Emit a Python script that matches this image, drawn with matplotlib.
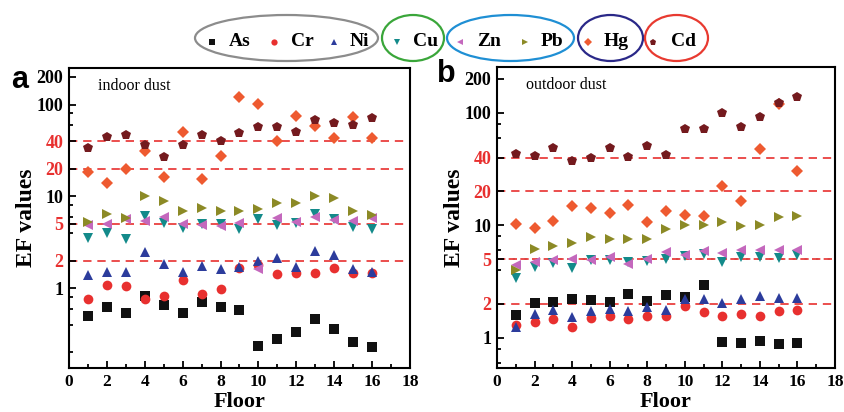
import matplotlib.pyplot as plt
from matplotlib.lines import Line2D
from matplotlib.patches import Ellipse
from matplotlib.ticker import FixedLocator, NullFormatter

# floors 1..16
floors = list(range(1, 17))

# indoor dust EF values
in_as = [0.50, 0.63, 0.53, 0.83, 0.66, 0.54, 0.71, 0.63, 0.58, 0.234, 0.276, 0.33, 0.46, 0.36, 0.256, 0.23]
in_cr = [0.76, 1.09, 1.06, 0.76, 0.83, 1.23, 0.86, 0.98, 1.67, 1.77, 1.41, 1.47, 1.46, 1.67, 1.47, 1.47]
in_ni = [1.39, 1.50, 1.51, 2.48, 1.81, 1.51, 1.74, 1.60, 1.70, 2.00, 2.14, 1.71, 2.52, 2.28, 1.63, 1.51]
in_cu = [3.56, 4.03, 3.45, 6.15, 5.08, 4.57, 4.96, 4.96, 4.42, 5.66, 4.88, 5.10, 6.35, 5.66, 4.68, 4.42]
in_zn = [4.88, 5.03, 5.66, 5.40, 6.00, 4.96, 4.88, 4.80, 5.08, 1.60, 5.85, 5.30, 5.90, 5.50, 5.40, 5.85]
in_pb = [5.2, 6.4, 5.75, 10.2, 8.9, 6.9, 7.5, 6.9, 7.0, 7.3, 8.5, 8.5, 10.2, 9.7, 6.9, 6.3]
in_hg = [18.2, 14.1, 19.8, 30.8, 16.2, 50, 15.3, 27.2, 120, 101, 39.6, 74.7, 57.7, 42.7, 72.8, 43.4]
in_cd = [33.8, 44, 46, 35.8, 26.8, 35.8, 46.8, 39.6, 48.8, 56.7, 56.7, 49.6, 68, 62.7, 60.6, 71.6]

# outdoor dust EF values
out_as = [1.60, 2.05, 2.09, 2.20, 2.17, 2.07, 2.43, 2.13, 2.39, 2.30, 2.95, 0.92, 0.90, 0.93, 0.88, 0.90]
out_cr = [1.29, 1.37, 1.46, 1.25, 1.50, 1.58, 1.46, 1.56, 1.55, 1.91, 1.71, 1.55, 1.62, 1.56, 1.72, 1.76]
out_ni = [1.25, 1.64, 1.76, 1.54, 1.74, 1.82, 1.74, 1.88, 1.78, 2.22, 2.20, 2.05, 2.23, 2.36, 2.25, 2.25]
out_cu = [3.43, 4.27, 4.63, 4.21, 4.89, 4.89, 4.73, 4.83, 4.99, 5.30, 5.53, 4.73, 5.24, 5.24, 5.16, 5.42]
out_zn = [4.42, 4.73, 4.89, 4.99, 4.89, 5.24, 4.57, 5.06, 5.80, 5.49, 5.88, 5.68, 6.0, 6.0, 6.0, 6.0]
out_pb = [4.04, 6.2, 6.6, 6.9, 7.8, 7.6, 7.5, 7.6, 9.3, 10.1, 10.0, 10.6, 9.9, 10.1, 11.9, 12.0]
out_hg = [10.3, 9.5, 10.9, 14.7, 14.3, 12.9, 15.1, 10.6, 13.4, 12.4, 12.1, 22.4, 16.4, 48, 120, 30.3]
out_cd = [42.6, 41.4, 49, 37.6, 39.8, 48.3, 40.3, 50.3, 42, 71.2, 71.2, 100, 75.3, 91.4, 122, 138.6]

elements = ["As", "Cr", "Ni", "Cu", "Zn", "Pb", "Hg", "Cd"]
markers = ["s", "o", "^", "v", "<", ">", "D", "p"]
colors = ["#111111", "#e8302f", "#2c3c9c", "#138a8a", "#c468bd", "#8c8a26", "#ee5a30", "#741a1e"]
sizes = [6.5, 7, 7, 7, 7, 7, 6, 7.5]

indoor = [in_as, in_cr, in_ni, in_cu, in_zn, in_pb, in_hg, in_cd]
outdoor = [out_as, out_cr, out_ni, out_cu, out_zn, out_pb, out_hg, out_cd]

ref_lines = [40, 20, 5, 2]
major_y = [1, 2, 5, 10, 20, 40, 100, 200]
minor_y = [0.2, 0.4, 0.6, 0.8, 4, 6, 8, 60, 80]
red = "#e8302f"
serif = "Liberation Serif"

plt.rcParams["font.family"] = serif

fig = plt.figure(figsize=(8.44, 4.12), dpi=100)
W, H = 844.0, 412.0

def px(x0, y0, x1, y1):
    return [x0 / W, 1 - y1 / H, (x1 - x0) / W, (y1 - y0) / H]

ax_a = fig.add_axes(px(69, 68, 410, 368))
ax_b = fig.add_axes(px(497, 67, 835, 368))


def setup(ax, data, ylim, title, dashdot5=False):
    for vals, m, c, s in zip(data, markers, colors, sizes):
        ax.plot(floors, vals, linestyle="none", marker=m, color=c, markersize=s,
                markeredgewidth=0, zorder=3)
    for v in ref_lines:
        if dashdot5 and v == 5:
            ax.axhline(v, color="#9a9a9a", lw=1.2, dashes=(1.5, 5.5), dash_capstyle="butt",
                       zorder=1, xmin=0.012)
            ax.axhline(v, color=red, lw=1.2, dashes=(5, 2), zorder=1)
        else:
            ax.axhline(v, color=red, lw=1.2, dashes=(5, 3.5), zorder=1)
    ax.set_yscale("log")
    ax.set_ylim(*ylim)
    ax.set_xlim(0, 18)
    ax.yaxis.set_major_locator(FixedLocator(major_y))
    ax.yaxis.set_minor_locator(FixedLocator(minor_y))
    ax.yaxis.set_minor_formatter(NullFormatter())
    ax.set_yticklabels([str(v) for v in major_y])
    ax.set_xticks(range(0, 19, 2))
    ax.set_xticks(range(1, 18, 2), minor=True)
    ax.tick_params(which="both", direction="in", top=False, right=False, width=1.3)
    ax.tick_params(which="major", length=5, labelsize=13, pad=4)
    ax.tick_params(axis="x", which="major", labelsize=12.5)
    ax.tick_params(which="minor", length=3)
    for lab in ax.get_xticklabels() + ax.get_yticklabels():
        lab.set_fontweight("bold")
    for lab, v in zip(ax.get_yticklabels(), major_y):
        if v in ref_lines:
            lab.set_color(red)
    for sp in ax.spines.values():
        sp.set_linewidth(1.5)
    ax.set_xlabel("Floor", fontsize=16, fontweight="bold", labelpad=2)
    ax.set_ylabel("EF values", fontsize=17, fontweight="bold")
    ax.yaxis.set_label_coords(-0.095, 0.5)
    ax.text(0.085, 0.94, title, transform=ax.transAxes, fontsize=11.5, va="center")


setup(ax_a, indoor, (0.135, 250), "indoor dust")
setup(ax_b, outdoor, (0.54, 255), "outdoor dust", dashdot5=True)

fig.text(20 / W, 1 - 80 / H, "a", fontsize=22, fontweight="bold", family="Liberation Sans",
         ha="center", va="center")
fig.text(446 / W, 1 - 74 / H, "b", fontsize=22, fontweight="bold", family="Liberation Sans",
         ha="center", va="center")

# legend row across the top
leg_y = 42
marker_x = [212, 274, 334, 397, 460, 525, 588, 653]
text_x = [229, 291, 350, 413, 477, 541, 604, 671]
for name, m, c, mx, tx in zip(elements, markers, colors, marker_x, text_x):
    fig.add_artist(Line2D([mx / W], [1 - leg_y / H], transform=fig.transFigure,
                          marker=m, color=c, markersize=4.5, markeredgewidth=0, linestyle="none"))
    fig.text(tx / W, 1 - leg_y / H, name, fontsize=14, fontweight="bold", va="center", ha="left")

groups = [(195, 378, "#8c8c8c"), (382, 444, "#3aa63a"), (447, 574, "#1f8fd4"),
          (578, 643, "#2a2888"), (645, 708, "#e83a30")]
for x0, x1, ec in groups:
    fig.add_artist(Ellipse(((x0 + x1) / 2 / W, 1 - 38 / H), (x1 - x0) / W, 46 / H,
                           transform=fig.transFigure, facecolor="none", edgecolor=ec, lw=1.6))

fig.savefig("out.png", dpi=100)
